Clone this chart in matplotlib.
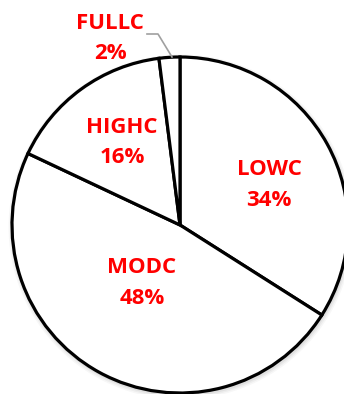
import matplotlib
matplotlib.use("Agg")
import matplotlib.pyplot as plt

# pie data (clockwise from 12 o'clock)
labels = ["LOWC", "MODC", "HIGHC", "FULLC"]
values = [34, 48, 16, 2]

# label centres (pixels, y measured from the bottom)
label_pos = [(269, 209), (142, 111), (122, 251.5), (110, 355.5)]

fig = plt.figure(figsize=(3.44, 3.94), dpi=100)
ax = fig.add_axes([0, 0, 1, 1])

# soft shadow behind the pie
for i, a in enumerate([0.05, 0.04, 0.03]):
    sh = plt.Circle((181, 167), 168 + 1.5 * (i + 1), color="black", alpha=a, lw=0)
    ax.add_patch(sh)

wedges, _ = ax.pie(values, startangle=90, counterclock=False, center=(180, 169),
                   radius=168, colors=["white"] * len(values),
                   wedgeprops=dict(edgecolor="black", linewidth=2.3),
                   frame=True)
ax.set_xlim(0, 344)
ax.set_ylim(0, 394)
ax.set_aspect("equal")
ax.axis("off")

total = sum(values)
for lab, v, (x, y) in zip(labels, values, label_pos):
    ax.text(x, y, f"{lab}\n{round(100 * v / total)}%", ha="center", va="center",
            color="red", fontsize=16, fontweight="bold", family="Open Sans",
            linespacing=1.58)

# leader line for the small slice
ax.plot([147, 158, 172], [360, 360, 337], color="#a0a0a0", lw=1.2)

fig.savefig("out.png", dpi=100)
